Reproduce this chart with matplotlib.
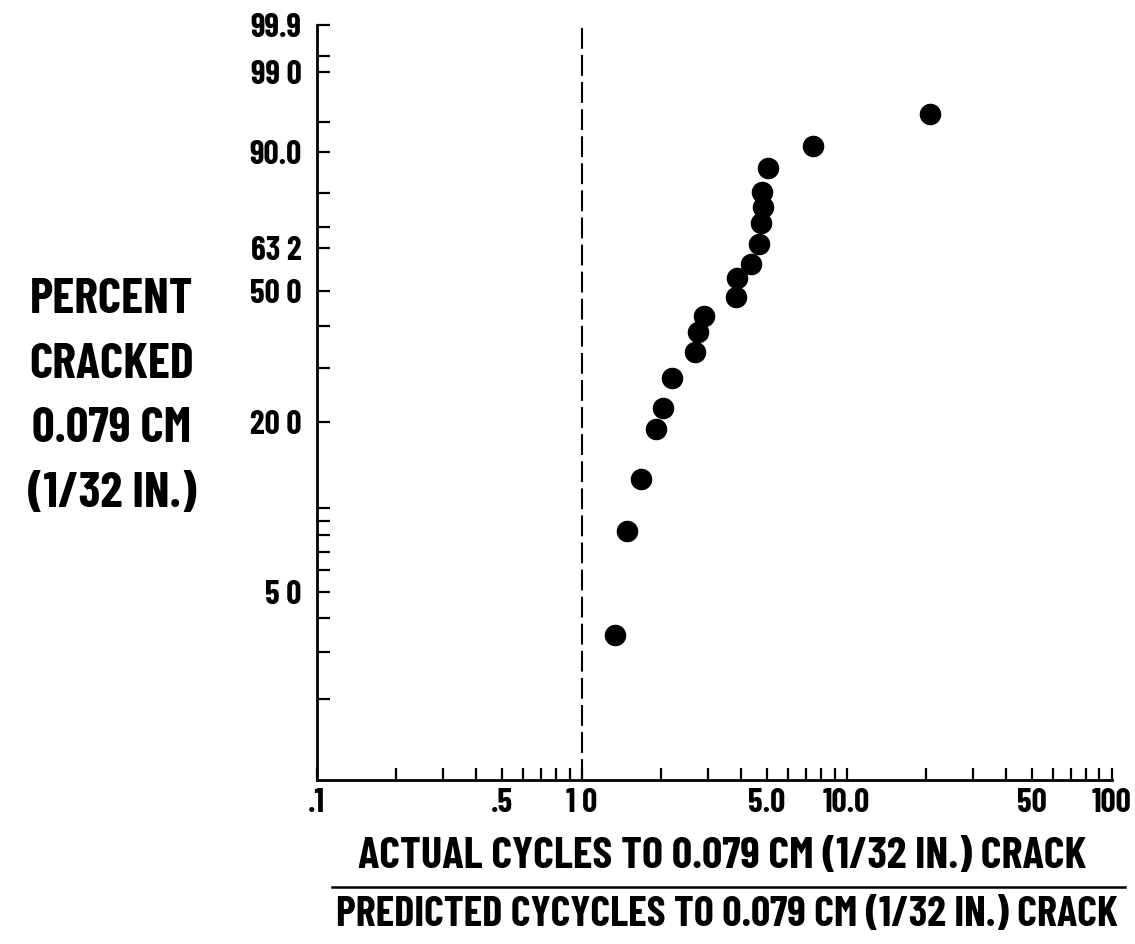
import numpy as np
import matplotlib
matplotlib.use('Agg')
import matplotlib.pyplot as plt

# 実測/予測サイクル比 と 割れ発生率(%)
ratio = [1.34, 1.48, 1.67, 1.91, 2.02, 2.19, 2.67, 2.75, 2.90, 3.81,
         3.86, 4.37, 4.66, 4.74, 4.85, 4.80, 5.03, 7.48, 20.6]
pct = [3.45, 8.3, 12.7, 18.9, 22.2, 27.8, 33.4, 38.4, 42.8, 48.2,
       54.0, 58.3, 64.6, 71.1, 76.0, 80.3, 86.5, 91.2, 95.9]

x_major = [0.1, 0.5, 1.0, 5.0, 10.0, 50, 100]
x_major_lbl = ['.1', '.5', '1 0', '5.0', '10.0', '50', '100']
y_major = [5.0, 20.0, 50.0, 63.2, 90.0, 99.0, 99.9]
y_major_lbl = ['5 0', '20 0', '50 0', '63 2', '90.0', '99 0', '99.9']
y_minor = [2, 3, 4, 6, 7, 8, 9, 10, 30, 40, 70, 80, 95, 99.5]

FONT = ['Barlow Condensed', 'DejaVu Sans']


def weib(p):
    p = np.clip(np.asarray(p, dtype=float) / 100.0, 1e-9, 1 - 1e-9)
    return np.log(-np.log(1 - p))


def weib_inv(w):
    return 100.0 * (1 - np.exp(-np.exp(np.asarray(w, dtype=float))))


fig = plt.figure(figsize=(11.35, 9.44), dpi=100)
ax = fig.add_axes([0.279, 0.1737, 0.7004, 0.7998])

ax.set_xscale('log')
ax.set_yscale('function', functions=(weib, weib_inv))
ax.set_xlim(0.1, 100)
ax.set_ylim(1, 99.9)

ax.plot(ratio, pct, 'o', color='black', markersize=14.5, zorder=3)
ax.axvline(1.0, color='black', lw=1.5, linestyle=(0, (10, 3)))

for s in ['top', 'right']:
    ax.spines[s].set_visible(False)
for s in ['left', 'bottom']:
    ax.spines[s].set_linewidth(2.0)

ax.set_xticks(x_major)
ax.set_xticklabels(x_major_lbl)
ax.set_xticks([v * m for m in [0.1, 1, 10] for v in range(2, 10) if v != 5], minor=True)
ax.set_yticks(y_major)
ax.set_yticklabels(y_major_lbl)
ax.set_yticks(y_minor, minor=True)
ax.tick_params(axis='both', which='both', direction='in', width=1.6, length=9,
               labelsize=24)
ax.tick_params(axis='x', which='major', pad=6)
ax.tick_params(axis='y', which='major', pad=11)
for t in ax.get_xticklabels() + ax.get_yticklabels():
    t.set_family(FONT)
    t.set_weight('bold')

# 縦軸ラベル
ylab = ['PERCENT', 'CRACKED', '0.079 CM', '(1/32 IN.)']
for i, s in enumerate(ylab):
    fig.text(112 / 1135, 1 - (300 + 64.5 * i) / 944, s, ha='center', va='center',
             fontsize=36, fontweight='bold', family=FONT)

# 横軸ラベル（分数形式）
fig.text(722 / 1135, 1 - 857 / 944, 'ACTUAL CYCLES TO 0.079 CM (1/32 IN.) CRACK',
         ha='center', va='center', fontsize=32, fontweight='bold', family=FONT)
fig.add_artist(plt.Line2D([332 / 1135, 1125 / 1135], [1 - 887 / 944, 1 - 887 / 944],
                          transform=fig.transFigure, color='black', lw=1.8))
fig.text(727 / 1135, 1 - 915 / 944, 'PREDICTED CYCYCLES TO 0.079 CM (1/32 IN.) CRACK',
         ha='center', va='center', fontsize=30.5, fontweight='bold', family=FONT)

fig.savefig('out.png', dpi=100)
